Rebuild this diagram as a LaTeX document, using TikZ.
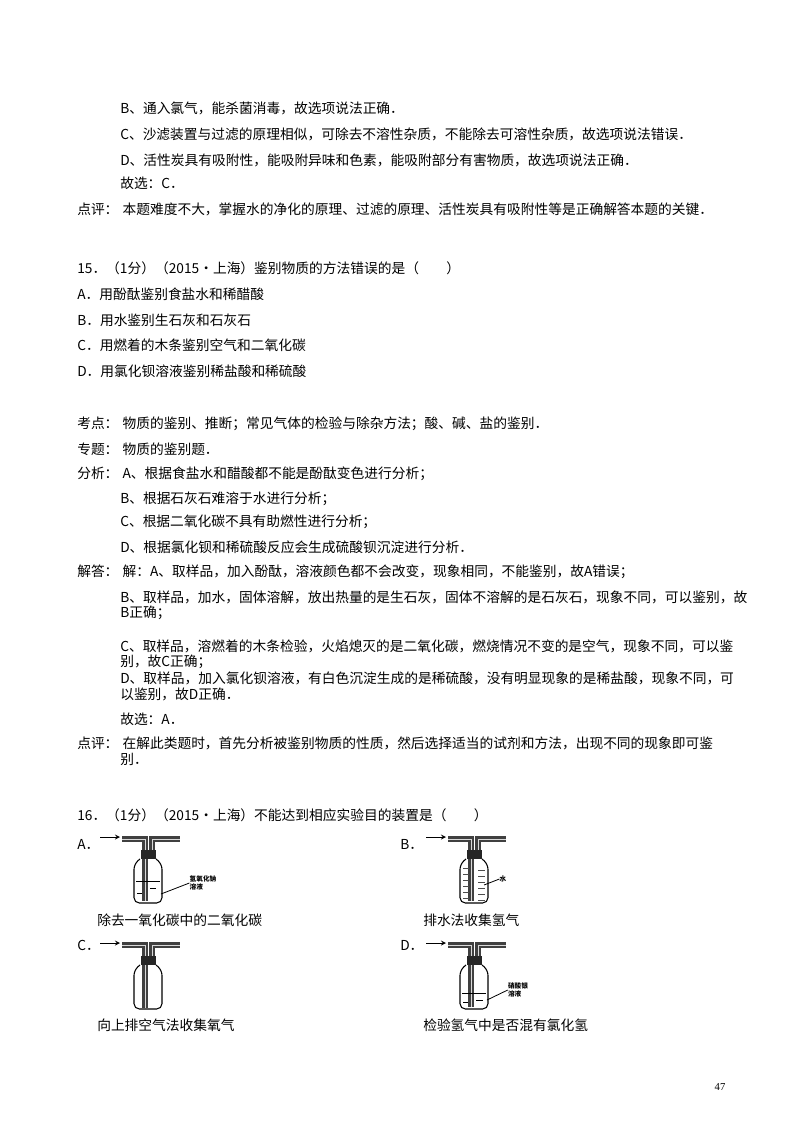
\documentclass[tikz,border=0pt]{standalone}
\usepackage{fontspec}
\setmainfont{Liberation Serif}
\newfontfamily\cjk{Noto Sans CJK SC}
\begin{document}
\begin{tikzpicture}[x=0.75pt,y=-0.75pt,
  txt/.style={anchor=west,inner sep=0pt,font=\cjk\fontsize{10.3}{12}\selectfont},
  tiny/.style={inner sep=0pt,font=\cjk\bfseries\fontsize{5}{6}\selectfont,align=left},
  tube/.style={line width=1.6pt,draw=black!75,double=white!85!black,double distance=0.6pt}]
\useasboundingbox (0,0) rectangle (800,1132);
\newcommand{\bottle}[3]{%
 \begin{scope}[shift={(#1,#2)}]
  \draw[->,>=stealth,line width=0.7pt] (-34,-21) -- (-14,-21);
  \draw[tube] (-12,-19) -- (11,-19) -- (11,#3);
  \draw[tube] (18,-1) -- (18,-19) -- (46,-19);
  \fill[black!85] (7,-8) rectangle (22,1);
  \draw[line width=0.8pt,rounded corners=4] (6,1) -- (0,6) -- (0,45) -- (28,45) -- (28,6) -- (22,1);
 \end{scope}}
\node[txt] (l1) at (120,108) {B、通入氯气，能杀菌消毒，故选项说法正确．};
\node[txt] (l2) at (120,134) {C、沙滤装置与过滤的原理相似，可除去不溶性杂质，不能除去可溶性杂质，故选项说法错误．};
\node[txt] (l3) at (120,160) {D、活性炭具有吸附性，能吸附异味和色素，能吸附部分有害物质，故选项说法正确．};
\node[txt] (l4) at (120,183) {故选：C．};
\node[txt] (l5) at (77,209) {点评：\hspace{0.3em}本题难度不大，掌握水的净化的原理、过滤的原理、活性炭具有吸附性等是正确解答本题的关键．};
\node[txt] (q15) at (77,268) {15．（1分）（2015•上海）鉴别物质的方法错误的是（\qquad）};
\node[txt] (qa) at (77,294) {A．用酚酞鉴别食盐水和稀醋酸};
\node[txt] (qb) at (77,320) {B．用水鉴别生石灰和石灰石};
\node[txt] (qc) at (77,345) {C．用燃着的木条鉴别空气和二氧化碳};
\node[txt] (qd) at (77,371) {D．用氯化钡溶液鉴别稀盐酸和稀硫酸};
\node[txt] (k1) at (77,424) {考点：\hspace{0.3em}物质的鉴别、推断；常见气体的检验与除杂方法；酸、碱、盐的鉴别．};
\node[txt] (k2) at (77,449) {专题：\hspace{0.3em}物质的鉴别题．};
\node[txt] (k3) at (77,474) {分析：\hspace{0.3em}A、根据食盐水和醋酸都不能是酚酞变色进行分析；};
\node[txt] (k4) at (120,499) {B、根据石灰石难溶于水进行分析；};
\node[txt] (k5) at (120,522) {C、根据二氧化碳不具有助燃性进行分析；};
\node[txt] (k6) at (120,547) {D、根据氯化钡和稀硫酸反应会生成硫酸钡沉淀进行分析．};
\node[txt] (s1) at (77,572) {解答：\hspace{0.3em}解：A、取样品，加入酚酞，溶液颜色都不会改变，现象相同，不能鉴别，故A错误；};
\node[txt] (s2) at (120,597) {B、取样品，加水，固体溶解，放出热量的是生石灰，固体不溶解的是石灰石，现象不同，可以鉴别，故};
\node[txt] (s3) at (120,613) {B正确；};
\node[txt] (s4) at (120,646) {C、取样品，溶燃着的木条检验，火焰熄灭的是二氧化碳，燃烧情况不变的是空气，现象不同，可以鉴};
\node[txt] (s5) at (120,662) {别，故C正确；};
\node[txt] (s6) at (120,678) {D、取样品，加入氯化钡溶液，有白色沉淀生成的是稀硫酸，没有明显现象的是稀盐酸，现象不同，可};
\node[txt] (s7) at (120,694) {以鉴别，故D正确．};
\node[txt] (s8) at (120,719) {故选：A．};
\node[txt] (p1) at (77,743) {点评：\hspace{0.3em}在解此类题时，首先分析被鉴别物质的性质，然后选择适当的试剂和方法，出现不同的现象即可鉴};
\node[txt] (p2) at (120,759) {别．};
\node[txt] (q16) at (77,815) {16．（1分）（2015•上海）不能达到相应实验目的装置是（\qquad）};
\node[txt] (oa) at (77,844) {A．};
\node[txt] (ob) at (400,844) {B．};
\node[txt] (oc) at (77,945) {C．};
\node[txt] (od) at (400,945) {D．};
\node[txt] (ca) at (97,920) {除去一氧化碳中的二氧化碳};
\node[txt] (cb) at (423,920) {排水法收集氢气};
\node[txt] (cc) at (97,1025) {向上排空气法收集氧气};
\node[txt] (cd) at (423,1025) {检验氢气中是否混有氯化氢};
% bottles
\bottle{134}{858}{43}
\draw[line width=0.6pt] (136,881) -- (160,881);
\draw[line width=0.4pt] (137,893) -- (142,893) (150,888) -- (156,888);
\node[tiny] (la) at (203,883) {氢氧化钠\\溶液};
\draw[line width=0.6pt] (la.west) -- (161,894);
\bottle{460}{858}{43}
\foreach \yy in {868,874,880,886,892,898} \draw[line width=0.35pt,black!70] (463,\yy) -- (469,\yy) (478,\yy+2) -- (485,\yy+2);
\node[tiny] (lb) at (503,879) {水};
\draw[line width=0.6pt] (lb.west) -- (484,885);
\bottle{134}{964}{44}
\bottle{460}{964}{43}
\draw[line width=0.6pt] (462,993) -- (486,993);
\draw[line width=0.4pt] (463,1002) -- (468,1002) (476,1000) -- (483,1000);
\node[tiny] (ld) at (518,990) {硝酸银\\溶液};
\draw[line width=0.6pt] (ld.west) -- (487,1000);
\node[inner sep=0pt,font=\fontsize{8}{9}\selectfont] (pg) at (720,1087) {47};
\end{tikzpicture}
\end{document}
